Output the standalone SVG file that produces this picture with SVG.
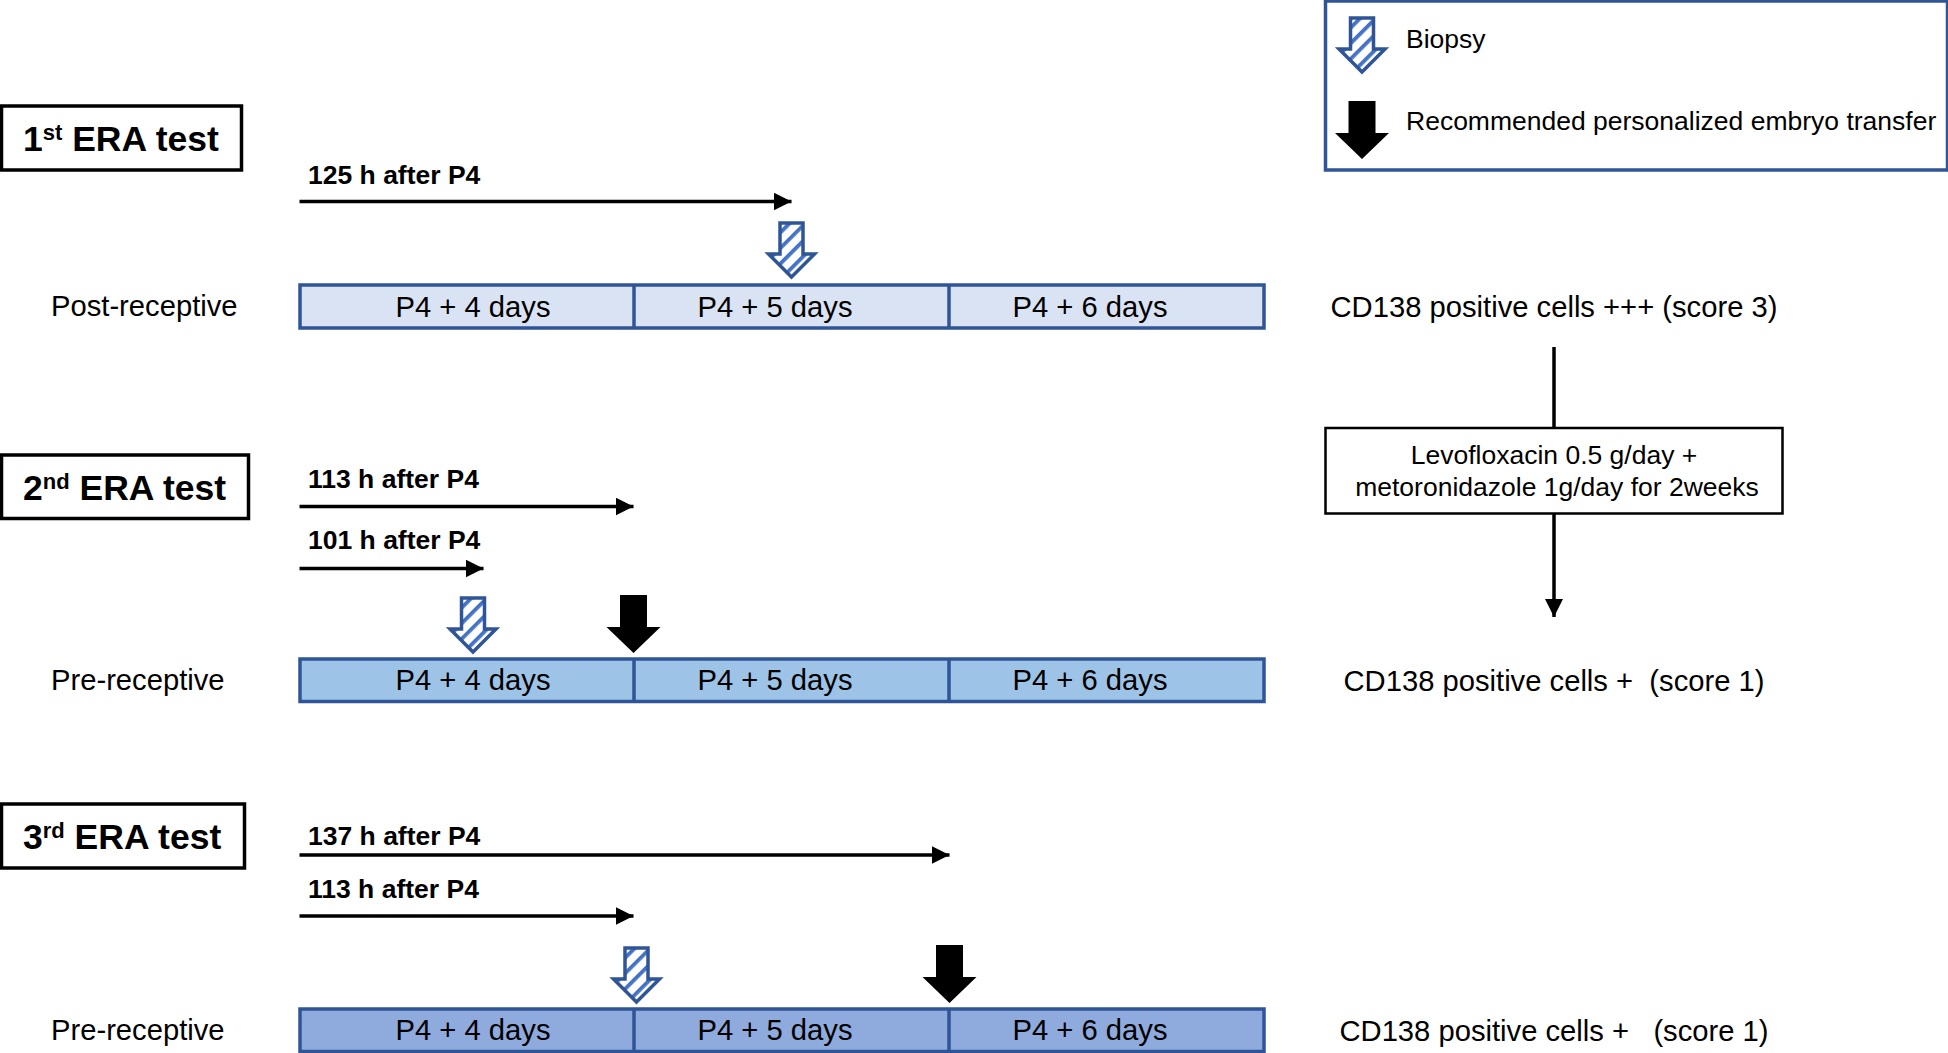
<svg xmlns="http://www.w3.org/2000/svg" width="1948" height="1053" viewBox="0 0 1948 1053">
<style>
text{font-family:"Liberation Sans",Arial,sans-serif;fill:#000}
.t{font-size:29.200px}
.b{font-size:26.500px;font-weight:bold}
.h{font-size:35.500px;font-weight:bold}
.l{font-size:26.500px}
.m{text-anchor:middle}
.box{fill:#fff;stroke:#000;stroke-width:3.500}
.bar{stroke:#2f5597;stroke-width:3.500}
.line{stroke:#000;stroke-width:3.500;fill:none}
</style>
<defs>
<pattern id="hatch" width="11" height="11" patternUnits="userSpaceOnUse" patternTransform="rotate(45)"><rect width="11" height="11" fill="#fff"/><rect width="3.800" height="11" fill="#4472c4"/></pattern>
<marker id="tip" markerUnits="userSpaceOnUse" markerWidth="20" markerHeight="20" refX="18" refY="9" orient="auto"><path d="M0 0L18 9L0 18Z" fill="#000"/></marker>
<g id="biopsy"><path d="M-11.500 -58H11.500V-27H23L0 -4L-23 -27H-11.500Z" fill="url(#hatch)" stroke="#2f5597" stroke-width="3.500"/></g>
<g id="transfer"><path d="M-13.500 -58H13.500V-26H27L0 0L-27 -26H-13.500Z" fill="#000"/></g>
</defs>
<g id="legend">
<rect x="1325.500" y="1" width="622" height="169" fill="#fff" stroke="#2f5597" stroke-width="3.500"/>
<use href="#biopsy" x="1362" y="76"/>
<use href="#transfer" x="1362" y="159"/>
<text class="l" x="1406" y="48">Biopsy</text>
<text class="l" x="1406" y="129.500">Recommended personalized embryo transfer</text>
</g>
<g id="test-1">
<rect class="box" x="1.500" y="106" width="240" height="64"/>
<text class="h" x="23" y="151">1<tspan font-size="22" dy="-11">st</tspan><tspan dy="11"> ERA test</tspan></text>
<text class="t" x="51" y="316">Post-receptive</text>
</g>
<g id="bar-1">
<rect class="bar" x="300" y="285" width="964" height="43" fill="#dae3f3"/>
<path class="bar" d="M634 285V328M949 285V328"/>
<text class="t m" x="473" y="317">P4 + 4 days</text>
<text class="t m" x="775" y="317">P4 + 5 days</text>
<text class="t m" x="1090" y="317">P4 + 6 days</text>
</g>
<g id="test-2">
<rect class="box" x="1.500" y="455" width="247" height="63.500"/>
<text class="h" x="23" y="500">2<tspan font-size="22" dy="-11">nd</tspan><tspan dy="11"> ERA test</tspan></text>
<text class="t" x="51" y="690">Pre-receptive</text>
</g>
<g id="bar-2">
<rect class="bar" x="300" y="659" width="964" height="42.500" fill="#9dc3e6"/>
<path class="bar" d="M634 659V701.500M949 659V701.500"/>
<text class="t m" x="473" y="690">P4 + 4 days</text>
<text class="t m" x="775" y="690">P4 + 5 days</text>
<text class="t m" x="1090" y="690">P4 + 6 days</text>
</g>
<g id="test-3">
<rect class="box" x="1.500" y="804" width="243" height="64"/>
<text class="h" x="23" y="849">3<tspan font-size="22" dy="-11">rd</tspan><tspan dy="11"> ERA test</tspan></text>
<text class="t" x="51" y="1040">Pre-receptive</text>
</g>
<g id="bar-3">
<rect class="bar" x="300" y="1009" width="964" height="42.500" fill="#8faadc"/>
<path class="bar" d="M634 1009V1051.500M949 1009V1051.500"/>
<text class="t m" x="473" y="1040">P4 + 4 days</text>
<text class="t m" x="775" y="1040">P4 + 5 days</text>
<text class="t m" x="1090" y="1040">P4 + 6 days</text>
</g>
<g id="timing-labels">
<text class="b" x="308" y="184">125 h after P4</text>
<text class="b" x="308" y="488">113 h after P4</text>
<text class="b" x="308" y="549">101 h after P4</text>
<text class="b" x="308" y="845">137 h after P4</text>
<text class="b" x="308" y="898">113 h after P4</text>
</g>
<g id="connectors">
<path class="line" marker-end="url(#tip)" d="M299.500 201.500H791.500"/>
<path class="line" marker-end="url(#tip)" d="M299.500 506.500H633.500"/>
<path class="line" marker-end="url(#tip)" d="M299.500 568.500H483.500"/>
<path class="line" marker-end="url(#tip)" d="M299.500 855H949.500"/>
<path class="line" marker-end="url(#tip)" d="M299.500 916H633.500"/>
<path class="line" d="M1554 347V428"/>
<path class="line" marker-end="url(#tip)" d="M1554 514V617"/>
</g>
<g id="markers">
<use href="#biopsy" x="791.500" y="281"/>
<use href="#biopsy" x="473" y="656"/>
<use href="#transfer" x="633.500" y="653"/>
<use href="#biopsy" x="636.500" y="1006"/>
<use href="#transfer" x="949.500" y="1003"/>
</g>
<g id="results">
<text class="t m" x="1554" y="317">CD138 positive cells +++ (score 3)</text>
<text class="t m" x="1554" y="691" xml:space="preserve">CD138 positive cells +  (score 1)</text>
<text class="t m" x="1554" y="1041" xml:space="preserve">CD138 positive cells +   (score 1)</text>
</g>
<g id="treatment">
<rect x="1325.500" y="428" width="457" height="85.500" fill="#fff" stroke="#000" stroke-width="2.500"/>
<text class="l m" x="1554" y="464">Levofloxacin 0.5 g/day +</text>
<text class="l m" x="1557" y="496">metoronidazole 1g/day for 2weeks</text>
</g>
</svg>
